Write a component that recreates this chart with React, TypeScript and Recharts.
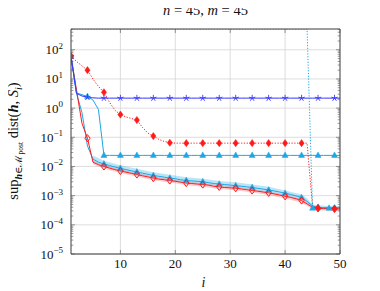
import React from 'react';
import { ComposedChart, Line, Area, XAxis, YAxis, CartesianGrid } from 'recharts';

// iteration index
const steps = [
  1, 2, 3, 4, 5, 6, 7, 8, 9, 10,
  11, 12, 13, 14, 15, 16, 17, 18, 19, 20,
  21, 22, 23, 24, 25, 26, 27, 28, 29, 30,
  31, 32, 33, 34, 35, 36, 37, 38, 39, 40,
  41, 42, 43, 44, 45, 46, 47, 48, 49, 50,
];

const blueStar = [
  60, 3.2, 2.6, 2.35, 2.25, 2.2, 2.2, 2.2, 2.2, 2.2,
  2.2, 2.2, 2.2, 2.2, 2.2, 2.2, 2.2, 2.2, 2.2, 2.2,
  2.2, 2.2, 2.2, 2.2, 2.2, 2.2, 2.2, 2.2, 2.2, 2.2,
  2.2, 2.2, 2.2, 2.2, 2.2, 2.2, 2.2, 2.2, 2.2, 2.2,
  2.2, 2.2, 2.2, 2.2, 2.2, 2.2, 2.2, 2.2, 2.2, 2.2,
];

const redDotted = [
  60, 40, 28, 20, 10, 5.5, 3.5, 1.6, 0.85, 0.6,
  0.5, 0.44, 0.39, 0.22, 0.14, 0.11, 0.085, 0.072, 0.065, 0.063,
  0.063, 0.063, 0.063, 0.063, 0.063, 0.063, 0.063, 0.063, 0.063, 0.063,
  0.063, 0.063, 0.063, 0.063, 0.063, 0.063, 0.063, 0.063, 0.063, 0.063,
  0.063, 0.063, 0.063, 0.063, 0.00042, 0.00037, 0.00036, 0.00036, 0.00036, 0.00036,
];

const cyanTri = [
  60, 3.3, 2.9, 2.5, 1.9, 0.9, 0.024, 0.024, 0.024, 0.024,
  0.024, 0.024, 0.024, 0.024, 0.024, 0.024, 0.024, 0.024, 0.024, 0.024,
  0.024, 0.024, 0.024, 0.024, 0.024, 0.024, 0.024, 0.024, 0.024, 0.024,
  0.024, 0.024, 0.024, 0.024, 0.024, 0.024, 0.024, 0.024, 0.024, 0.024,
  0.024, 0.024, 0.024, 0.024, 0.024, 0.024, 0.024, 0.024, 0.024, 0.024,
];

const cyanBundle = [
  60, 3.2, 0.7, 0.05, 0.018, 0.014, 0.0122, 0.0108, 0.0096, 0.0086,
  0.0078, 0.0071, 0.0065, 0.0059, 0.0054, 0.0049, 0.0046, 0.0043, 0.004, 0.0038,
  0.0035, 0.0033, 0.0032, 0.0031, 0.003, 0.0028, 0.0026, 0.0025, 0.0024, 0.0023,
  0.0022, 0.0021, 0.002, 0.0019, 0.00178, 0.00167, 0.00156, 0.00145, 0.00133, 0.00121,
  0.0011, 0.00098, 0.00086, 0.00064, 0.00044, 0.0004, 0.00039, 0.00039, 0.00038, 0.00038,
];

const redBundle = [
  60, 4.2, 0.3, 0.093, 0.014, 0.0115, 0.01, 0.0088, 0.0078, 0.007,
  0.0064, 0.0058, 0.0053, 0.0048, 0.0044, 0.004, 0.0037, 0.0035, 0.0033, 0.0031,
  0.0029, 0.0027, 0.0026, 0.0025, 0.0024, 0.0023, 0.0021, 0.002, 0.0019, 0.00185,
  0.0018, 0.0017, 0.0016, 0.0015, 0.00142, 0.00133, 0.00125, 0.00115, 0.00105, 0.00095,
  0.00087, 0.00078, 0.00068, 0.00052, 0.0004, 0.00037, 0.00036, 0.00036, 0.00035, 0.00035,
];

// off the top of the axis until the last few iterations
const cyanDotted = [
  515, 515, 515, 515, 515, 515, 515, 515, 515, 515,
  515, 515, 515, 515, 515, 515, 515, 515, 515, 515,
  515, 515, 515, 515, 515, 515, 515, 515, 515, 515,
  515, 515, 515, 515, 515, 515, 515, 515, 515, 515,
  515, 515, 515, 515, 0.00037, 0.00037, 0.00037, 0.00037, 0.00037, 0.00037,
];

// shaded spread around the two bundles
const bandSteps = [5, 7, 10, 13, 16, 19, 22, 25, 28, 31, 34, 37, 40, 43, 44, 45, 47, 50];
const redBandLow = [0.012, 0.0086, 0.006, 0.0045, 0.0034, 0.0028, 0.0023, 0.002, 0.0017, 0.00152, 0.00127, 0.00106, 0.0008, 0.00057, 0.00044, 0.00034, 0.00031, 0.0003];
const redBandHigh = [0.0158, 0.0112, 0.0079, 0.006, 0.0045, 0.0037, 0.003, 0.0027, 0.00225, 0.002, 0.00168, 0.0014, 0.00107, 0.00077, 0.00059, 0.00045, 0.0004, 0.00039];
const cyanBandLow = [0.0145, 0.0102, 0.0072, 0.0055, 0.0042, 0.0034, 0.0028, 0.0025, 0.0021, 0.0019, 0.0016, 0.0013, 0.00099, 0.00072, 0.00055, 0.00042, 0.00038, 0.00037];
const cyanBandHigh = [0.024, 0.0158, 0.011, 0.0084, 0.0063, 0.0052, 0.0043, 0.0038, 0.0032, 0.0029, 0.0024, 0.002, 0.0015, 0.0011, 0.00082, 0.0005, 0.00045, 0.00044];

const xTicks = [10, 20, 30, 40, 50];
const xGrid = [10, 20, 30, 40];
const decadeTicks = [1e-5, 1e-4, 1e-3, 1e-2, 1e-1, 1, 10, 100];
const Y_MIN = 1e-5;
const Y_MAX = 515;

const minorTicks: number[] = [];
decadeTicks.forEach((d) => {
  for (let m = 2; m <= 9; m++) if (m * d <= Y_MAX) minorTicks.push(m * d);
});
const allYTicks = [...decadeTicks, ...minorTicks].sort((a, b) => a - b);

const data = steps.map((i, k) => {
  const b = bandSteps.indexOf(i);
  return {
    i,
    blueStar: blueStar[k],
    redDotted: redDotted[k],
    cyanTri: cyanTri[k],
    cyanBundle: cyanBundle[k],
    redBundle: redBundle[k],
    cyanDotted: cyanDotted[k],
    redBand: b >= 0 ? [redBandLow[b], redBandHigh[b]] : [null, null],
    cyanBand: b >= 0 ? [cyanBandLow[b], cyanBandHigh[b]] : [null, null],
  };
});

const SERIF = '"Liberation Serif", "DejaVu Serif", serif';
const RED = '#ff1a1a';
const BLUE = '#3535ff';
const CYAN = '#1ea6e4';
const FRAME = '#3a3a3a';
const PLOT_TOP = 29;

const Marker = ({ shape, cx, cy, color }: any) => {
  if (shape === 'star') {
    const arms = [0, 1, 2, 3, 4].map((k) => {
      const a = ((-90 + 72 * k) * Math.PI) / 180;
      return (
        <line key={k} x1={cx} y1={cy} x2={cx + 3.3 * Math.cos(a)} y2={cy + 3.3 * Math.sin(a)} stroke={color} strokeWidth={0.9} />
      );
    });
    return <g>{arms}</g>;
  }
  if (shape === 'diamond' || shape === 'diamondOpen') {
    const pts = `${cx},${cy - 3.6} ${cx + 2.6},${cy} ${cx},${cy + 3.6} ${cx - 2.6},${cy}`;
    return shape === 'diamond' ? (
      <polygon points={pts} fill={color} stroke={color} strokeWidth={0.5} />
    ) : (
      <polygon points={pts} fill="none" stroke={color} strokeWidth={1} />
    );
  }
  const tri = `${cx},${cy - 3.4} ${cx + 3},${cy + 2} ${cx - 3},${cy + 2}`;
  return <polygon points={tri} fill={color} stroke={color} strokeWidth={0.5} />;
};

const everyThird = (shape: string, color: string, phase: number, fromI = 1) => (props: any) => {
  const { cx, cy, payload, index } = props;
  const key = `${shape}-${color}-${index}`;
  const show =
    cx != null && cy != null && payload && payload.i >= fromI && (payload.i - phase) % 3 === 0 && cy > PLOT_TOP + 1;
  if (!show) return <g key={key} />;
  return (
    <g key={key}>
      <Marker shape={shape} cx={cx} cy={cy} color={color} />
    </g>
  );
};

const expLabel = (v: number) => {
  const e = Math.round(Math.log10(v));
  return e < 0 ? `\u2212${-e}` : `${e}`;
};

const LeftTick = (props: any) => {
  const { x, y, payload } = props;
  const major = decadeTicks.includes(payload.value);
  return (
    <g>
      <line x1={x} y1={y} x2={x + (major ? 4 : 2.3)} y2={y} stroke="#555" strokeWidth={0.6} />
      {major && (
        <text x={x - 8} y={y + 4.5} textAnchor="end" fontFamily={SERIF} fontSize={13} fill="#111">
          10
          <tspan fontSize={9} dy={-5.5}>
            {expLabel(payload.value)}
          </tspan>
        </text>
      )}
    </g>
  );
};

const RightTick = (props: any) => {
  const { x, y, payload } = props;
  const major = decadeTicks.includes(payload.value);
  return <line x1={x} y1={y} x2={x - (major ? 4 : 2.3)} y2={y} stroke="#555" strokeWidth={0.6} />;
};

const BottomTick = (props: any) => {
  const { x, y, payload } = props;
  return (
    <g>
      <line x1={x} y1={y} x2={x} y2={y - 4} stroke="#555" strokeWidth={0.6} />
      <text x={x} y={y + 14} textAnchor="middle" fontFamily={SERIF} fontSize={13} fill="#111">
        {payload.value}
      </text>
    </g>
  );
};

const TopTick = (props: any) => {
  const { x, y } = props;
  return <line x1={x} y1={y} x2={x} y2={y + 4} stroke="#555" strokeWidth={0.6} />;
};

export default function App() {
  return (
    <div style={{ position: 'relative', width: 380, height: 291, margin: '-8px 0 0 -8px', background: '#fff' }}>
      <ComposedChart width={380} height={291} data={data} margin={{ top: 28, right: 36, bottom: 0, left: 0 }}>
        <CartesianGrid stroke="#d4d4d4" strokeWidth={0.8} horizontalValues={decadeTicks} verticalValues={xGrid} />
        <XAxis
          dataKey="i"
          type="number"
          domain={[1, 50]}
          ticks={xTicks}
          interval={0}
          allowDataOverflow
          height={37}
          tickSize={0}
          tickMargin={0}
          tickLine={false}
          axisLine={{ stroke: FRAME, strokeWidth: 1 }}
          tick={<BottomTick />}
        />
        <XAxis
          xAxisId="top"
          orientation="top"
          dataKey="i"
          type="number"
          domain={[1, 50]}
          ticks={xTicks}
          interval={0}
          allowDataOverflow
          height={1}
          tickSize={0}
          tickMargin={0}
          tickLine={false}
          axisLine={{ stroke: FRAME, strokeWidth: 1 }}
          tick={<TopTick />}
        />
        <YAxis
          type="number"
          scale="log"
          domain={[Y_MIN, Y_MAX]}
          ticks={allYTicks}
          interval={0}
          allowDataOverflow
          width={71}
          tickSize={0}
          tickMargin={0}
          tickLine={false}
          axisLine={{ stroke: FRAME, strokeWidth: 1 }}
          tick={<LeftTick />}
        />
        <YAxis
          yAxisId="right"
          orientation="right"
          type="number"
          scale="log"
          domain={[Y_MIN, Y_MAX]}
          ticks={allYTicks}
          interval={0}
          allowDataOverflow
          width={4}
          tickSize={0}
          tickMargin={0}
          tickLine={false}
          axisLine={{ stroke: FRAME, strokeWidth: 1 }}
          tick={<RightTick />}
        />

        <Area type="linear" dataKey="cyanBand" fill={CYAN} fillOpacity={0.3} stroke="none" connectNulls dot={false} activeDot={false} isAnimationActive={false} />
        <Area type="linear" dataKey="redBand" fill={RED} fillOpacity={0.22} stroke="none" connectNulls dot={false} activeDot={false} isAnimationActive={false} />

        <Line type="linear" dataKey="cyanBundle" stroke={CYAN} strokeWidth={1} dot={everyThird('triangle', CYAN, 1, 7)} activeDot={false} isAnimationActive={false} />
        <Line type="linear" dataKey="redBundle" stroke={RED} strokeWidth={1} dot={everyThird('diamondOpen', RED, 1, 4)} activeDot={false} isAnimationActive={false} />
        <Line type="linear" dataKey="cyanTri" stroke={CYAN} strokeWidth={1} dot={everyThird('triangle', CYAN, 1)} activeDot={false} isAnimationActive={false} />
        <Line type="linear" dataKey="blueStar" stroke={BLUE} strokeWidth={1} dot={everyThird('star', BLUE, 1)} activeDot={false} isAnimationActive={false} />
        <Line type="linear" dataKey="redDotted" stroke={RED} strokeWidth={1} strokeDasharray="1.2 1.6" dot={everyThird('diamond', RED, 1)} activeDot={false} isAnimationActive={false} />
        <Line type="linear" dataKey="cyanDotted" stroke={CYAN} strokeWidth={1} strokeDasharray="1.2 1.6" dot={everyThird('triangle', CYAN, 0)} activeDot={false} isAnimationActive={false} />
      </ComposedChart>

      <svg width={380} height={291} style={{ position: 'absolute', left: 0, top: 0, pointerEvents: 'none' }}>
        <text x={205.5} y={15} textAnchor="middle" fontFamily={SERIF} fontSize={14.5} fill="#111">
          <tspan fontStyle="italic">n</tspan>
          <tspan> = 45, </tspan>
          <tspan fontStyle="italic">m</tspan>
          <tspan> = 45</tspan>
        </text>
        <text x={203.5} y={286.5} textAnchor="middle" fontFamily={SERIF} fontSize={14} fontStyle="italic" fill="#111">
          i
        </text>
        <text transform="translate(18,141) rotate(-90)" textAnchor="middle" fontFamily={SERIF} fontSize={14.5} fill="#111">
          <tspan>sup</tspan>
          <tspan fontSize={10} dy={3.5}>
            <tspan fontWeight="bold" fontStyle="italic">h</tspan>
            <tspan>∈ℳ</tspan>
          </tspan>
          <tspan fontSize={7.5} dy={1.5}>post</tspan>
          <tspan dy={-5}> dist(</tspan>
          <tspan fontWeight="bold" fontStyle="italic">h</tspan>
          <tspan>, </tspan>
          <tspan fontStyle="italic">Ŝ</tspan>
          <tspan fontSize={10} fontStyle="italic" dy={3.5}>i</tspan>
          <tspan dy={-3.5}>)</tspan>
        </text>
      </svg>
    </div>
  );
}
